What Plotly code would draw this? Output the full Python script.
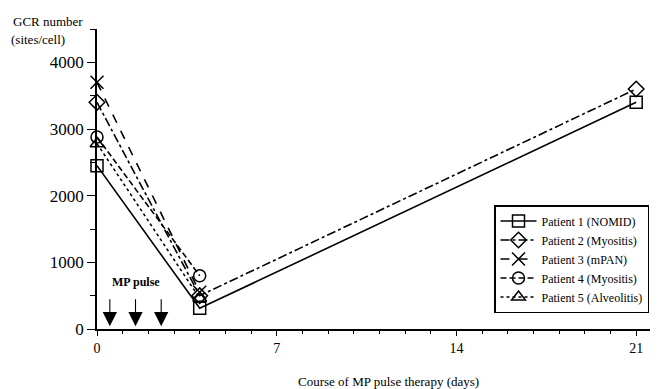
import plotly.graph_objects as go

days = [0, 4, 21]
p1 = [2450, 310, 3400]
p2 = [3400, 500, 3600]
p3 = [3700, 550]
p4 = [2880, 800]
p5 = [2780, 460]
names = ["Patient 1 (NOMID)", "Patient 2 (Myositis)", "Patient 3 (mPAN)",
         "Patient 4 (Myositis)", "Patient 5 (Alveolitis)"]
pulse_days = [0.5, 1.5, 2.5]
x_ticks = [0, 7, 14, 21]
y_ticks = [0, 1000, 2000, 3000, 4000]

FONT = "Liberation Serif"
OFF = 8  # default page body margin
W, H = 658 - OFF, 389 - OFF
L, R, T, B = 97 - OFF, 0, 29 - OFF, 389 - 329
PW, PH = W - L - R, H - T - B


def px_x(x):  # page pixel -> paper fraction
    return (x - OFF - L) / PW


def px_y(y):
    return (H - B - (y - OFF)) / PH


fig = go.Figure()
series = [
    (p1, "square-open", "solid", 12),
    (p2, "diamond-open", "dashdot", 12),
    (p3, "x-thin-open", "dash", 13),
    (p4, "circle-open", "6px,3px", 12),
    (p5, "triangle-up-open", "dot", 12),
]
for (vals, sym, dash, size), name in zip(series, names):
    fig.add_trace(go.Scatter(
        x=days[:len(vals)], y=vals, name=name, mode="lines+markers",
        line=dict(color="black", width=1.6, dash=dash),
        marker=dict(symbol=sym, size=size, color="black",
                    line=dict(color="black", width=1.5)),
        cliponaxis=False,
    ))

for d in pulse_days:
    fig.add_annotation(x=d, y=40, ax=d, ay=470, xref="x", yref="y",
                       axref="x", ayref="y", text="", showarrow=True,
                       arrowhead=2, arrowsize=2.6, arrowwidth=1.1,
                       arrowcolor="black")
fig.add_annotation(x=sum(pulse_days) / len(pulse_days), y=700, xref="x", yref="y",
                   text="<b>MP pulse</b>", showarrow=False,
                   font=dict(family=FONT, size=12, color="black"))

fig.add_annotation(x=px_x(11), y=px_y(21), xref="paper", yref="paper",
                   xanchor="left", yanchor="middle", text="GCR number",
                   showarrow=False, font=dict(family=FONT, size=13, color="black"))
fig.add_annotation(x=px_x(9), y=px_y(39), xref="paper", yref="paper",
                   xanchor="left", yanchor="middle", text="(sites/cell)",
                   showarrow=False, font=dict(family=FONT, size=13, color="black"))
fig.add_annotation(x=px_x(388), y=px_y(381), xref="paper", yref="paper",
                   xanchor="center", yanchor="middle",
                   text="Course of MP pulse therapy (days)",
                   showarrow=False, font=dict(family=FONT, size=13, color="black"))

fig.update_layout(
    width=W, height=H,
    margin=dict(l=L, r=R, t=T, b=B, autoexpand=False),
    paper_bgcolor="white", plot_bgcolor="white",
    font=dict(family=FONT, size=12, color="black"),
    showlegend=True,
    legend=dict(x=px_x(494), y=px_y(205), xanchor="left", yanchor="top",
                bordercolor="black", borderwidth=1.5, bgcolor="white",
                font=dict(family=FONT, size=12, color="black"),
                itemwidth=36, tracegroupgap=0),
    xaxis=dict(range=[0, 21.85], tickvals=x_ticks, ticks="outside", ticklen=5,
               tickwidth=1.2, tickcolor="black", showline=True, linecolor="black",
               linewidth=1.5, showgrid=False, zeroline=False, automargin=False,
               tickfont=dict(family=FONT, size=14),
               minor=dict(dtick=1, ticks="outside", ticklen=3, tickcolor="black")),
    yaxis=dict(range=[0, 4500], tickvals=y_ticks, ticks="outside", ticklen=8,
               tickwidth=1.2, tickcolor="black", showline=True, linecolor="black",
               linewidth=1.5, showgrid=False, zeroline=False, automargin=False,
               tickfont=dict(family=FONT, size=17),
               minor=dict(dtick=500, ticks="outside", ticklen=5, tickcolor="black")),
)
fig.write_html("out.html")
